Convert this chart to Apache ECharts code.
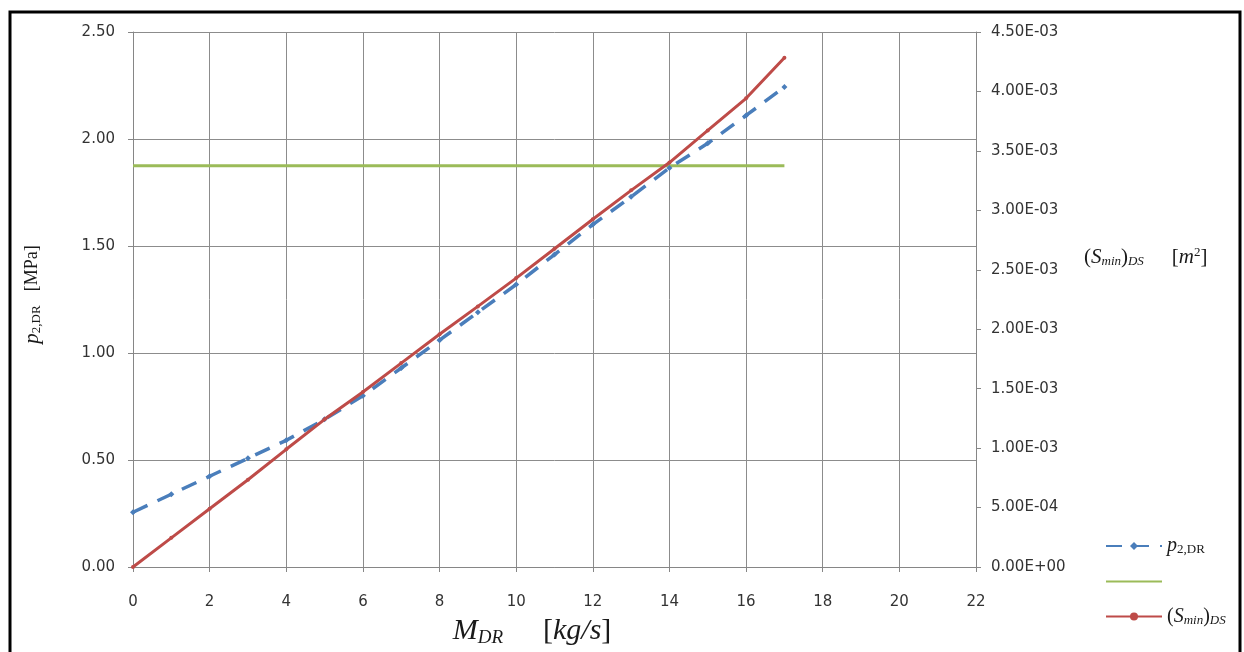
<!DOCTYPE html>
<html lang="en">
<head>
    <meta charset="utf-8">
    <title>p2,DR and (Smin)DS vs MDR</title>
    <script src="https://cdn.jsdelivr.net/npm/echarts@6/dist/echarts.min.js"></script>
    <style>
        html, body { margin: 0; padding: 0; background: #fff; }
        #chart { width: 1244px; height: 652px; }
    </style>
</head>
<body>
<div id="chart"></div>
<script>
    // mass flow M_DR [kg/s]
    var massFlow = [0, 1, 2, 3, 4, 5, 6, 7, 8, 9, 10, 11, 12, 13, 14, 15, 16, 17];
    // p2,DR [MPa]
    var pressure = [0.256, 0.34, 0.424, 0.508, 0.592, 0.69, 0.80, 0.93, 1.06, 1.19,
                    1.32, 1.46, 1.60, 1.73, 1.865, 1.98, 2.11, 2.243];
    // (S_min)_DS [m^2]
    var areaMin = [0, 0.245e-3, 0.490e-3, 0.734e-3, 0.99e-3, 1.242e-3, 1.472e-3, 1.715e-3,
                   1.958e-3, 2.192e-3, 2.43e-3, 2.677e-3, 2.925e-3, 3.168e-3, 3.402e-3,
                   3.672e-3, 3.942e-3, 4.284e-3];
    // horizontal limit line [MPa]
    var limitX = [0, 17];
    var limitY = [1.875, 1.875];

    function pairs(xs, ys) {
        return xs.map(function (x, i) { return [x, ys[i]]; });
    }

    // Excel style 4.50E-03
    function sci(v) {
        if (v === 0) return '0.00E+00';
        var e = Math.floor(Math.log10(Math.abs(v)) + 1e-9);
        var m = v / Math.pow(10, e);
        var es = Math.abs(e) < 10 ? '0' + Math.abs(e) : '' + Math.abs(e);
        return m.toFixed(2) + 'E' + (e < 0 ? '-' : '+') + es;
    }

    var serif = 'Liberation Serif';
    var lbl = { fontFamily: 'DejaVu Sans', fontSize: 15, color: '#333' };
    var ink = '#1a1a1a';

    var chart = echarts.init(document.getElementById('chart'));
    chart.setOption({
        animation: false,
        backgroundColor: '#fff',
        graphic: [{
            type: 'rect',
            shape: { x: 10, y: 12, width: 1230, height: 660 },
            style: { fill: 'none', stroke: '#000', lineWidth: 3 },
            silent: true
        }],
        grid: { left: 133, right: 268, top: 32, bottom: 84, containLabel: false },
        legend: {
            orient: 'vertical',
            left: 1100,
            top: 531,
            itemGap: 15,
            itemWidth: 56,
            itemHeight: 10,
            data: [
                { name: 'p2' },
                { name: 'limit', itemStyle: { opacity: 0 } },
                { name: 'smin' }
            ],
            formatter: function (name) {
                if (name === 'p2') return '{i|p}{s|2,DR}';
                if (name === 'smin') return '{t|(}{i|S}{si|min}{t|)}{si|DS}';
                return '{t| }';
            },
            textStyle: {
                rich: {
                    i: { fontFamily: serif, fontStyle: 'italic', fontSize: 20, color: ink },
                    s: { fontFamily: serif, fontSize: 13, color: ink, padding: [8, 0, 0, 0] },
                    si: { fontFamily: serif, fontStyle: 'italic', fontSize: 13, color: ink, padding: [8, 0, 0, 0] },
                    t: { fontFamily: serif, fontSize: 20, color: ink }
                }
            }
        },
        xAxis: {
            type: 'value',
            min: 0, max: 22, interval: 2,
            name: '{i|M}{s|DR}{g|}{t|[}{i|kg/s}{t|]}',
            nameLocation: 'middle',
            nameGap: 48,
            nameTextStyle: {
                padding: [0, 0, 0, -45],
                rich: {
                    i: { fontFamily: serif, fontStyle: 'italic', fontSize: 30, color: ink },
                    s: { fontFamily: serif, fontStyle: 'italic', fontSize: 19, color: ink, padding: [13, 0, 0, 0] },
                    g: { width: 40 },
                    t: { fontFamily: serif, fontSize: 30, color: ink }
                }
            },
            axisLine: { lineStyle: { color: '#868686' } },
            axisTick: { show: true, length: 5, lineStyle: { color: '#868686' } },
            axisLabel: Object.assign({ margin: 28 }, lbl),
            splitLine: { show: true, lineStyle: { color: '#8c8c8c', width: 1 } }
        },
        yAxis: [{
            type: 'value',
            min: 0, max: 2.5, interval: 0.5,
            position: 'left',
            name: '{i|p}{s|2,DR}{g|}{t|[MPa]}',
            nameLocation: 'middle',
            nameGap: 90,
            nameRotate: 90,
            nameTextStyle: {
                padding: [0, 0, 0, 10],
                rich: {
                    i: { fontFamily: serif, fontStyle: 'italic', fontSize: 21, color: ink },
                    s: { fontFamily: serif, fontSize: 13, color: ink, padding: [8, 0, 0, 0] },
                    g: { width: 14 },
                    t: { fontFamily: serif, fontSize: 18, color: ink }
                }
            },
            axisLine: { show: true, lineStyle: { color: '#868686' } },
            axisTick: { show: true, length: 5, lineStyle: { color: '#868686' } },
            axisLabel: Object.assign({ margin: 18, formatter: function (v) { return v.toFixed(2); } }, lbl),
            splitLine: { show: true, lineStyle: { color: '#8c8c8c', width: 1 } }
        }, {
            type: 'value',
            min: 0, max: 4.5e-3, interval: 0.5e-3,
            position: 'right',
            name: '{t|(}{i|S}{si|min}{t|)}{si|DS}{g|}{t|[}{i|m}{sup|2}{t|]}',
            nameLocation: 'middle',
            nameGap: 108,
            nameRotate: 0,
            nameTextStyle: {
                padding: [0, 0, 84, 0],
                rich: {
                    i: { fontFamily: serif, fontStyle: 'italic', fontSize: 21, color: ink },
                    si: { fontFamily: serif, fontStyle: 'italic', fontSize: 13, color: ink, padding: [9, 0, 0, 0] },
                    sup: { fontFamily: serif, fontSize: 13, color: ink, padding: [0, 0, 10, 0] },
                    g: { width: 28 },
                    t: { fontFamily: serif, fontSize: 21, color: ink }
                }
            },
            axisLine: { show: true, lineStyle: { color: '#868686' } },
            axisTick: { show: true, length: 5, inside: false, lineStyle: { color: '#868686' } },
            axisLabel: Object.assign({ margin: 15, formatter: sci }, lbl),
            splitLine: { show: false }
        }],
        series: [{
            name: 'p2',
            type: 'line',
            yAxisIndex: 0,
            data: pairs(massFlow, pressure),
            symbol: 'diamond',
            symbolSize: 6,
            showSymbol: true,
            color: '#4a7ebb',
            lineStyle: { width: 3.5, type: [16, 11], color: '#4a7ebb' },
            itemStyle: { color: '#4a7ebb' },
            z: 3
        }, {
            name: 'limit',
            type: 'line',
            yAxisIndex: 0,
            data: pairs(limitX, limitY),
            symbol: 'none',
            color: '#9bbb59',
            lineStyle: { width: 3, color: '#9bbb59' },
            z: 2
        }, {
            name: 'smin',
            type: 'line',
            yAxisIndex: 1,
            data: pairs(massFlow, areaMin),
            symbol: 'circle',
            symbolSize: 4,
            showSymbol: true,
            color: '#be4b48',
            lineStyle: { width: 3, color: '#be4b48' },
            itemStyle: { color: '#be4b48' },
            z: 4
        }]
    });
</script>
</body>
</html>
